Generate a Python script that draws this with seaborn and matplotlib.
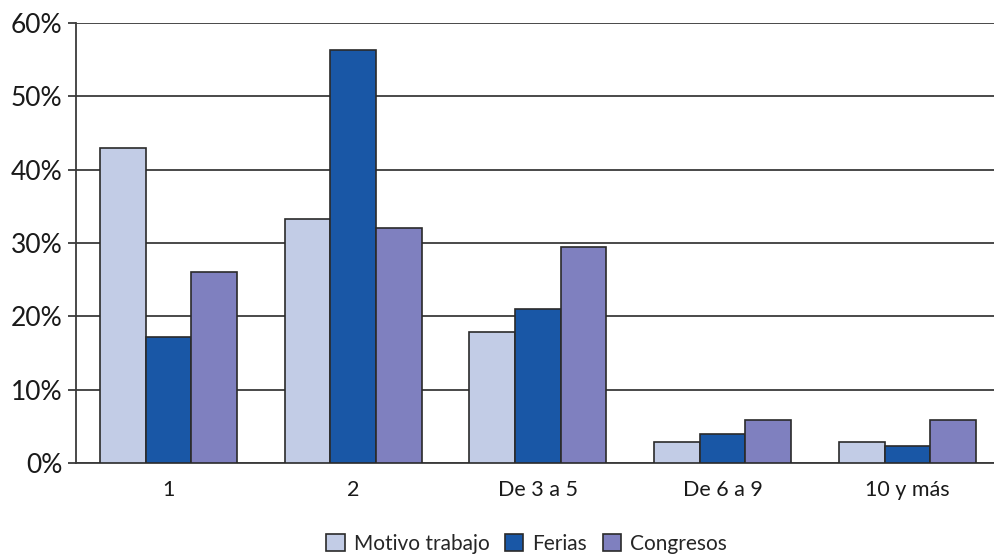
import matplotlib
matplotlib.use("Agg")
import matplotlib.pyplot as plt
import seaborn as sns
import pandas as pd
from matplotlib.ticker import FuncFormatter

categories = ["1", "2", "De 3 a 5", "De 6 a 9", "10 y más"]
motivo_trabajo = [43.0, 33.3, 17.8, 2.9, 2.8]
ferias = [17.2, 56.3, 21.0, 4.0, 2.3]
congresos = [26.0, 32.1, 29.4, 5.8, 5.8]
series_names = ["Motivo trabajo", "Ferias", "Congresos"]
colors = ["#C2CCE6", "#1957A6", "#7F80BF"]

rows = []
for name, vals in zip(series_names, [motivo_trabajo, ferias, congresos]):
    for c, v in zip(categories, vals):
        rows.append({"cat": c, "serie": name, "val": v})
df = pd.DataFrame(rows)

sns.set_theme(style="white")
plt.rcParams['font.family'] = ['Lato', 'DejaVu Sans']

fig = plt.figure(figsize=(9.94, 5.55), dpi=100)
ax = fig.add_axes([0.0765, 0.1658, 0.9293, 0.7928])

sns.barplot(data=df, x="cat", y="val", hue="serie", order=categories,
            hue_order=series_names, palette=colors, saturation=1,
            width=0.742, gap=0,
            edgecolor="#2a2a2a", linewidth=1.2, ax=ax, zorder=3, legend=True)

ax.set_ylim(0, 60)
ax.set_xlim(-0.5, 4.5)
ax.set_yticks(range(0, 61, 10))
ax.yaxis.set_major_formatter(FuncFormatter(lambda v, p: f"{int(v)}%"))
ax.grid(axis="y", color="#3a3a3a", linewidth=1.3, zorder=0)
ax.set_axisbelow(True)
ax.set_xlabel("")
ax.set_ylabel("")
for s in ["top", "right"]:
    ax.spines[s].set_visible(False)
ax.spines["left"].set_color("#3a3a3a")
ax.spines["left"].set_linewidth(1.3)
ax.spines["bottom"].set_color("#3a3a3a")
ax.spines["bottom"].set_linewidth(1.3)
ax.tick_params(axis="y", which="major", left=True, length=6, width=1.3,
               color="#3a3a3a", labelsize=19, pad=4, labelcolor="#1a1a1a")
ax.tick_params(axis="x", bottom=False, labelsize=15.5, pad=6, labelcolor="#1a1a1a")

handles, labels = ax.get_legend_handles_labels()
ax.legend(handles, labels, loc="lower center", bbox_to_anchor=(0.488, -0.225),
          ncol=3, frameon=False, fontsize=15, handlelength=0.87, handleheight=0.87,
          handletextpad=0.43, columnspacing=0.77, borderaxespad=0)

fig.savefig("out.png", dpi=100)
